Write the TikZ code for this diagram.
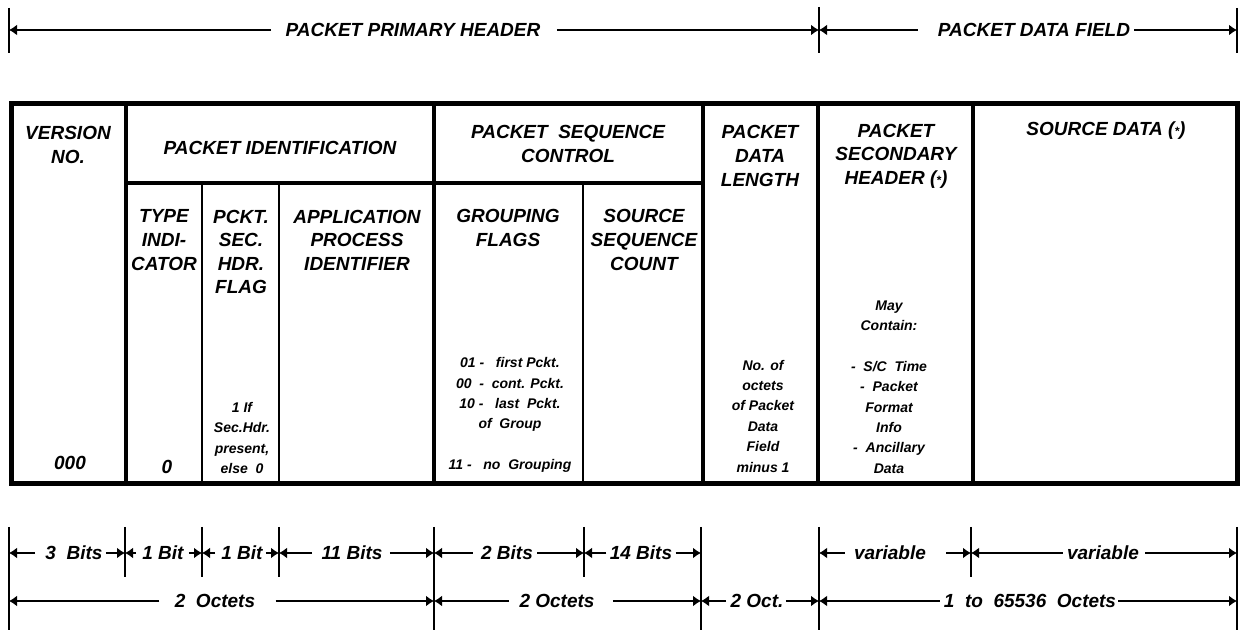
\documentclass[tikz,border=0pt]{standalone}
\usepackage{fontspec}
\setmainfont{Liberation Sans}
\newfontfamily\bifont{Liberation Sans Bold Italic}
\usetikzlibrary{arrows.meta}
\newcommand{\astm}{({\fontsize{6}{6}\selectfont *})}
\begin{document}
\begin{tikzpicture}[x=0.5pt,y=-0.5pt,
  hdr/.style={font=\fontsize{9.5}{11.8}\selectfont\bifont, align=center, inner sep=0pt},
  sm/.style={font=\fontsize{7}{10.2}\selectfont\bifont, align=center, inner sep=0pt},
  dimlbl/.style={font=\fontsize{9.5}{11.5}\selectfont\bifont, inner sep=0pt},
  dimline/.style={line width=0.85pt, -{Latex[length=4pt,width=5.5pt]}},
  tickline/.style={line width=0.85pt},
  tblouter/.style={line width=2.5pt},
  tblmajor/.style={line width=1.7pt},
  tblminor/.style={line width=1.2pt}]
\useasboundingbox (0,0) rectangle (1243,630);

% ---------- top dimension line ----------
\coordinate (p0) at (9,30);
\coordinate (p1) at (819,30);
\coordinate (p2) at (1237,30);
\draw[tickline] (9,8) -- (9,53);
\draw[tickline] (819,7) -- (819,53);
\draw[tickline] (1237,8) -- (1237,53);
\node[dimlbl] (pph) at (413,30) {PACKET PRIMARY HEADER};
\node[dimlbl] (pdf) at (1034,30) {PACKET DATA FIELD};
\draw[dimline, shorten <=7pt] (pph) -- (p0);
\draw[dimline, shorten <=8pt] (pph) -- (p1);
\draw[dimline, shorten <=10pt] (pdf) -- (p1);
\draw[dimline, shorten <=2pt] (pdf) -- (p2);

% ---------- table ----------
\draw[tblmajor] (126,104) -- (126,484);
\draw[tblmajor] (434,104) -- (434,484);
\draw[tblmajor] (703,104) -- (703,484);
\draw[tblmajor] (818,104) -- (818,484);
\draw[tblmajor] (973,104) -- (973,484);
\draw[tblmajor] (126,183) -- (703,183);
\draw[tblminor] (202,183) -- (202,484);
\draw[tblminor] (279,183) -- (279,484);
\draw[tblminor] (583,183) -- (583,484);
\draw[tblouter] (11,104) rectangle (1237,484);

\node[hdr] (ver) at (68,145) {VERSION\\NO.};
\node[hdr] (pid) at (280,148) {PACKET IDENTIFICATION};
\node[hdr] (typ) at (164,240) {TYPE\\INDI-\\CATOR};
\node[hdr] (shf) at (241,252) {PCKT.\\SEC.\\HDR.\\FLAG};
\node[hdr] (apid) at (357,240) {APPLICATION\\PROCESS\\IDENTIFIER};
\node[hdr] (psc) at (568,144) {PACKET~~SEQUENCE\\CONTROL};
\node[hdr] (gf) at (508,228) {GROUPING\\FLAGS};
\node[hdr] (ssc) at (644,240) {SOURCE\\SEQUENCE\\COUNT};
\node[hdr] (pdl) at (760,156) {PACKET\\DATA\\LENGTH};
\node[hdr] (psh) at (896,156) {PACKET\\SECONDARY\\HEADER \astm};
\node[hdr] (sd) at (1106,131) {SOURCE DATA \astm};

\node[hdr] (verv) at (70,463) {000};
\node[hdr] (typv) at (167,467) {0};
\node[sm] (shfv) at (242,438) {1 If\\Sec.Hdr.\\present,\\else~~0};
\node[sm] (gfv) at (510,415) {01 -~~~first Pckt.\\00~~-~~cont. Pckt.\\10 -~~~last~~Pckt.\\of~~Group\\[10.2pt]11 -~~~no~~Grouping};
\node[sm] (pdlv) at (763,416) {No. of\\octets\\of Packet\\Data\\Field\\minus 1};
\node[sm] (pshv) at (889,387) {May\\Contain:\\[10.2pt]-~~S/C~~Time\\-~~Packet\\Format\\Info\\-~~Ancillary\\Data};

% ---------- bottom dimension lines ----------
\foreach \x in {125,202,279,584,971}{\draw[tickline] (\x,527) -- (\x,577);}
\foreach \x in {9,434,701,819,1237}{\draw[tickline] (\x,527) -- (\x,630);}

\coordinate (a0) at (9,553);
\coordinate (a1) at (125,553);
\coordinate (a2) at (202,553);
\coordinate (a3) at (279,553);
\coordinate (a4) at (434,553);
\coordinate (a5) at (584,553);
\coordinate (a6) at (701,553);
\coordinate (a7) at (819,553);
\coordinate (a8) at (971,553);
\coordinate (a9) at (1237,553);
\coordinate (b0) at (9,601);
\coordinate (b4) at (434,601);
\coordinate (b6) at (701,601);
\coordinate (b7) at (819,601);
\coordinate (b9) at (1237,601);

\node[dimlbl] (l1) at (74,553) {3~~Bits};
\node[dimlbl] (l2) at (163,553) {1 Bit};
\node[dimlbl] (l3) at (242,553) {1 Bit};
\node[dimlbl] (l4) at (352,553) {11 Bits};
\node[dimlbl] (l5) at (507,553) {2 Bits};
\node[dimlbl] (l6) at (641,553) {14 Bits};
\node[dimlbl] (l7) at (890,553) {variable};
\node[dimlbl] (l8) at (1103,553) {variable};

\draw[dimline, shorten <=5pt] (l1) -- (a0);
\draw[dimline, shorten <=1.5pt] (l1) -- (a1);
\draw[dimline, shorten <=3pt] (l2) -- (a1);
\draw[dimline, shorten <=2.5pt] (l2) -- (a2);
\draw[dimline, shorten <=3pt] (l3) -- (a2);
\draw[dimline, shorten <=1.5pt] (l3) -- (a3);
\draw[dimline, shorten <=4.5pt] (l4) -- (a3);
\draw[dimline, shorten <=3.5pt] (l4) -- (a4);
\draw[dimline, shorten <=4pt] (l5) -- (a4);
\draw[dimline, shorten <=2pt] (l5) -- (a5);
\draw[dimline, shorten <=1.5pt] (l6) -- (a5);
\draw[dimline, shorten <=1.5pt] (l6) -- (a6);
\draw[dimline, shorten <=4.5pt] (l7) -- (a7);
\draw[dimline, shorten <=10pt] (l7) -- (a8);
\draw[dimline, shorten <=2pt] (l8) -- (a8);
\draw[dimline, shorten <=3pt] (l8) -- (a9);

\node[dimlbl] (m1) at (215,601) {2~~Octets};
\node[dimlbl] (m2) at (557,601) {2 Octets};
\node[dimlbl] (m3) at (757,601) {2~Oct.};
\node[dimlbl] (m4) at (1030,601) {1~~to~~65536~~Octets};

\draw[dimline, shorten <=7.5pt] (m1) -- (b0);
\draw[dimline, shorten <=10pt] (m1) -- (b4);
\draw[dimline, shorten <=5pt] (m2) -- (b4);
\draw[dimline, shorten <=9pt] (m2) -- (b6);
\draw[dimline, shorten <=2pt] (m3) -- (b6);
\draw[dimline, shorten <=1pt] (m3) -- (b7);
\draw[dimline, shorten <=2pt] (m4) -- (b7);
\draw[dimline, shorten <=1pt] (m4) -- (b9);
\end{tikzpicture}
\end{document}
